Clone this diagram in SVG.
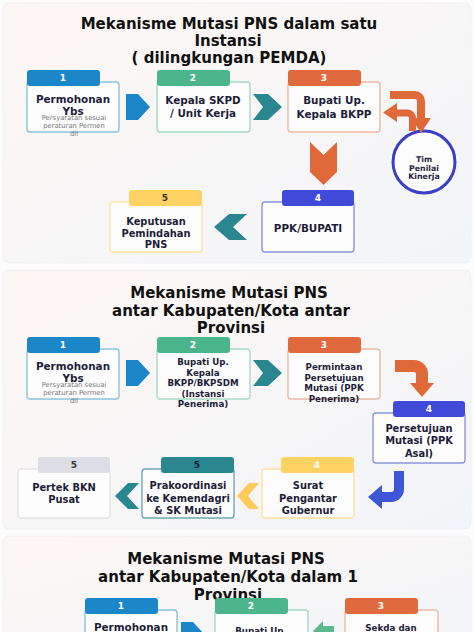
<svg xmlns="http://www.w3.org/2000/svg" width="474" height="632" viewBox="0 0 474 632">
<defs>
<linearGradient id="sec" x1="0" y1="0" x2="1" y2="1">
<stop offset="0" stop-color="#fdf7f4"/>
<stop offset="1" stop-color="#f2f5f9"/>
</linearGradient>
<style>
text{font-family:"DejaVu Sans","Liberation Sans",sans-serif;text-anchor:middle}
.ttl{font-size:15px;font-weight:bold;fill:#111}
.t{font-size:10.4px;font-weight:bold;fill:#1d1d3a}
.t9{font-size:8.7px;font-weight:bold;fill:#1d1d3a}
.t10{font-size:9.9px;font-weight:bold;fill:#1d1d3a}
.sub{font-size:6.8px;fill:#777}
.num{font-size:9px;font-weight:bold;fill:#fff}
.bd{fill:#fdfdfd;stroke-width:1.4}
.ct{font-size:7.8px;font-weight:bold;fill:#1d1d3a}
</style>
</defs>
<rect width="474" height="632" fill="#fdfdfd"/>
<rect x="3" y="3" width="468" height="260" rx="6" fill="url(#sec)" stroke="#f1eff3"/>
<rect x="3" y="270" width="468" height="259" rx="6" fill="url(#sec)" stroke="#f1eff3"/>
<rect x="3" y="536" width="468" height="110" rx="6" fill="url(#sec)" stroke="#f1eff3"/>

<!-- Section 1 -->
<g id="title1">
<text class="ttl" x="229" y="29">Mekanisme Mutasi PNS dalam satu</text>
<text class="ttl" x="228" y="46">Instansi</text>
<text class="ttl" x="229" y="63">( dilingkungan PEMDA)</text>
</g>
<g id="s1-n1">
<rect class="bd" stroke="#8cc2e0" x="27" y="82" width="92" height="50" rx="3"/>
<rect fill="#1b87c9" x="27" y="70" width="73" height="16" rx="3"/>
<text class="num" x="63" y="81">1</text>
<text class="t" x="73" y="103">Permohonan</text>
<text class="t" x="73" y="115">Ybs</text>
<text class="sub" x="74" y="120">Persyaratan sesuai</text>
<text class="sub" x="74" y="128">peraturan Permen</text>
<text class="sub" x="74" y="136">dll</text>
</g>
<g id="s1-n2">
<rect class="bd" stroke="#a6dbc4" x="157" y="82" width="93" height="50" rx="3"/>
<rect fill="#4db58c" x="157" y="70" width="73" height="16" rx="3"/>
<text class="num" x="193" y="81">2</text>
<text class="t" x="203" y="104">Kepala SKPD</text>
<text class="t" x="203" y="117">/ Unit Kerja</text>
</g>
<g id="s1-n3">
<rect class="bd" stroke="#ecb9a2" x="288" y="82" width="92" height="50" rx="3"/>
<rect fill="#e0693d" x="288" y="70" width="73" height="16" rx="3"/>
<text class="num" x="324" y="81">3</text>
<text class="t" x="334" y="104">Bupati Up.</text>
<text class="t" x="334" y="118">Kepala BKPP</text>
</g>
<g id="s1-tim">
<circle cx="424" cy="162" r="31" fill="#fdfdfd" stroke="#3a3fc4" stroke-width="3"/>
<text class="ct" x="424" y="162">Tim</text>
<text class="ct" x="424" y="170.5">Penilai</text>
<text class="ct" x="424" y="179">Kinerja</text>
</g>
<g id="s1-n4">
<rect class="bd" stroke="#8a96d8" x="262" y="202" width="92" height="50" rx="3"/>
<rect fill="#3f4bd8" x="282" y="190" width="72" height="16" rx="3"/>
<text class="num" x="318" y="201">4</text>
<text class="t" x="308" y="232">PPK/BUPATI</text>
</g>
<g id="s1-n5">
<rect class="bd" stroke="#fde2a4" x="110" y="202" width="92" height="50" rx="3"/>
<rect fill="#fed263" x="129" y="190" width="73" height="16" rx="3"/>
<text class="num" x="165" y="201" style="fill:#333">5</text>
<text class="t10" x="156" y="225">Keputusan</text>
<text class="t10" x="156" y="236.5">Pemindahan</text>
<text class="t10" x="156" y="248">PNS</text>
</g>

<!-- Section 2 -->
<g id="title2">
<text class="ttl" x="229" y="298">Mekanisme Mutasi PNS</text>
<text class="ttl" x="231" y="315.5">antar Kabupaten/Kota antar</text>
<text class="ttl" x="231" y="333">Provinsi</text>
</g>
<g id="s2-n1">
<rect class="bd" stroke="#8cc2e0" x="27" y="349" width="92" height="50" rx="3"/>
<rect fill="#1b87c9" x="27" y="337" width="73" height="16" rx="3"/>
<text class="num" x="63" y="348">1</text>
<text class="t" x="73" y="370">Permohonan</text>
<text class="t" x="73" y="382">Ybs</text>
<text class="sub" x="74" y="387">Persyaratan sesuai</text>
<text class="sub" x="74" y="395">peraturan Permen</text>
<text class="sub" x="74" y="403">dll</text>
</g>
<g id="s2-n2">
<rect class="bd" stroke="#a6dbc4" x="157" y="349" width="93" height="50" rx="3"/>
<rect fill="#4db58c" x="157" y="337" width="73" height="16" rx="3"/>
<text class="num" x="193" y="348">2</text>
<text class="t9" x="203" y="365">Bupati Up.</text>
<text class="t9" x="203" y="375.5">Kepala</text>
<text class="t9" x="203" y="386">BKPP/BKPSDM</text>
<text class="t9" x="203" y="396.5">(Instansi</text>
<text class="t9" x="203" y="407">Penerima)</text>
</g>
<g id="s2-n3">
<rect class="bd" stroke="#ecb9a2" x="288" y="349" width="92" height="50" rx="3"/>
<rect fill="#e0693d" x="288" y="337" width="73" height="16" rx="3"/>
<text class="num" x="324" y="348">3</text>
<text class="t9" x="334" y="370">Permintaan</text>
<text class="t9" x="334" y="380.5">Persetujuan</text>
<text class="t9" x="334" y="391">Mutasi (PPK</text>
<text class="t9" x="334" y="401.5">Penerima)</text>
</g>
<g id="s2-n4">
<rect class="bd" stroke="#8a96d8" x="373" y="413" width="92" height="50" rx="3"/>
<rect fill="#3f4bd8" x="393" y="401" width="72" height="16" rx="3"/>
<text class="num" x="429" y="412">4</text>
<text class="t10" x="419" y="431.5">Persetujuan</text>
<text class="t10" x="419" y="444">Mutasi (PPK</text>
<text class="t10" x="419" y="456.5">Asal)</text>
</g>
<g id="s2-n4b">
<rect class="bd" stroke="#fde0a0" x="262" y="469" width="92" height="49" rx="3"/>
<rect fill="#fed263" x="281" y="457" width="73" height="16" rx="3"/>
<text class="num" x="317" y="468">4</text>
<text class="t10" x="308" y="489">Surat</text>
<text class="t10" x="308" y="501.5">Pengantar</text>
<text class="t10" x="308" y="514">Gubernur</text>
</g>
<g id="s2-n5">
<rect class="bd" stroke="#6fa9b0" x="142" y="469" width="92" height="49" rx="3"/>
<rect fill="#2a8790" x="161" y="457" width="73" height="16" rx="3"/>
<text class="num" x="197" y="468" style="fill:#1d1d3a">5</text>
<text class="t10" x="188" y="489">Prakoordinasi</text>
<text class="t10" x="188" y="501.5">ke Kemendagri</text>
<text class="t10" x="188" y="514">&amp; SK Mutasi</text>
</g>
<g id="s2-n5b">
<rect class="bd" stroke="#e4e4ea" x="18" y="469" width="92" height="49" rx="3"/>
<rect fill="#dddde6" x="38" y="457" width="72" height="16" rx="3"/>
<text class="num" x="74" y="468" style="fill:#333">5</text>
<text class="t10" x="64" y="491">Pertek BKN</text>
<text class="t10" x="64" y="503">Pusat</text>
</g>

<!-- Section 3 -->
<g id="title3">
<text class="ttl" x="226" y="564">Mekanisme Mutasi PNS</text>
<text class="ttl" x="228" y="582">antar Kabupaten/Kota dalam 1</text>
<text class="ttl" x="228" y="600">Provinsi</text>
</g>
<g id="s3-n1">
<rect class="bd" stroke="#8cc2e0" x="85" y="610" width="92" height="50" rx="3"/>
<rect fill="#1b87c9" x="85" y="598" width="73" height="16" rx="3"/>
<text class="num" x="121" y="609">1</text>
<text class="t" x="131" y="631">Permohonan</text>
</g>
<g id="s3-n2">
<rect class="bd" stroke="#a6dbc4" x="215" y="610" width="93" height="50" rx="3"/>
<rect fill="#4db58c" x="215" y="598" width="73" height="16" rx="3"/>
<text class="num" x="251" y="609">2</text>
<text class="t9" x="261" y="634">Bupati Up.</text>
</g>
<g id="s3-n3">
<rect class="bd" stroke="#ecb9a2" x="345" y="610" width="93" height="50" rx="3"/>
<rect fill="#e0693d" x="345" y="598" width="73" height="16" rx="3"/>
<text class="num" x="381" y="609">3</text>
<text class="t9" x="391" y="631">Sekda dan</text>
</g>

<!-- Connectors -->
<g id="connectors">
<polygon fill="#1b87c9" points="126,94 138,94 150,107 138,120 126,120"/>
<polygon fill="#2a8790" points="253,94 268,94 282,107 268,120 253,120 263,107"/>
<path d="M390,95 H415 A6 6 0 0 1 421,101 V119" fill="none" stroke="#e0693a" stroke-width="8"/>
<polygon fill="#e0693a" points="411,118 431,118 421,133"/>
<path d="M412.5,131 V118 A5 5 0 0 0 407.5,113 H396" fill="none" stroke="#e0693a" stroke-width="7"/>
<polygon fill="#e0693a" points="397,103 397,122 383,112.5"/>
<polygon fill="#e0693a" points="310,142 323.5,155 337,142 337,172 323.5,185 310,172"/>
<polygon fill="#2a8790" points="214,227 229,214 247,214 233,227 247,240 229,240"/>

<polygon fill="#1b87c9" points="126,360 138,360 150,373 138,386 126,386"/>
<polygon fill="#2a8790" points="253,360 268,360 282,373 268,386 253,386 263,373"/>
<path d="M395,366 H414 A8 8 0 0 1 422,374 V384" fill="none" stroke="#e0693a" stroke-width="12"/>
<polygon fill="#e0693a" points="410,383 434,383 422,397"/>
<path d="M399,471 V489 A8 8 0 0 1 391,497 H381" fill="none" stroke="#3d55d6" stroke-width="10"/>
<polygon fill="#3d55d6" points="382,485 382,509 368,497"/>
<polygon fill="#fdc95a" points="237,496 249,483 259,483 248,496 259,509 249,509"/>
<polygon fill="#2a8790" points="115,496 128,483 139,483 127,496 139,509 128,509"/>

<polygon fill="#1b87c9" points="181,622 193,622 205,635 193,648 181,648"/>
<polygon fill="#5cb88e" points="313,631 323,621 323,626 334,626 334,636 323,636 323,641"/>
</g>
</svg>
